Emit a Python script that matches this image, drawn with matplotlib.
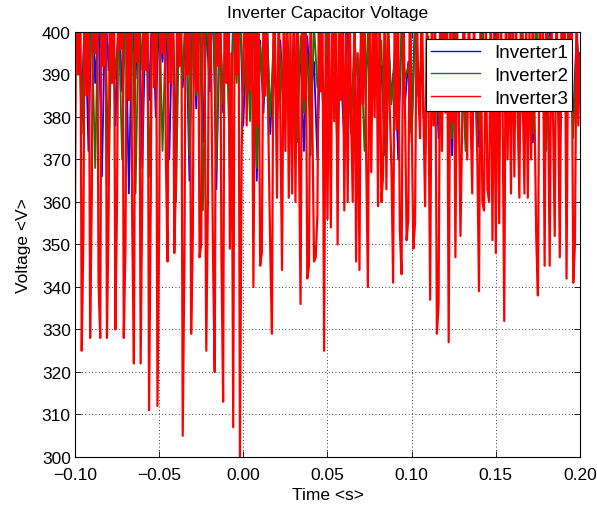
import numpy as np
import matplotlib
matplotlib.use("Agg")
import matplotlib.pyplot as plt

plt.rcParams['font.family'] = ['Liberation Sans', 'DejaVu Sans']

# Sample grids (s)
t_fine = np.round(np.arange(-0.100, 0.2005, 0.001), 4)   # Inverter3 samples
t_coarse = np.round(np.arange(-0.100, 0.2005, 0.002), 4)  # Inverter1/2 samples

# Inverter capacitor voltages (V)
inverter1 = [
    392, 410, 383, 406, 372, 409, 388, 404, 366, 407,
    391, 410, 378, 405, 386, 408, 362, 403, 389, 410,
    368, 406, 384, 409, 380, 404, 393, 408, 370, 405,
    375, 410, 387, 404, 365, 408, 382, 407, 374, 403,
    386, 409, 363, 405, 381, 408, 372, 404, 390, 406,
    378, 402, 384, 408, 365, 398, 381, 404, 376, 395,
    379, 398, 383, 392, 375, 401, 380, 396, 372, 399,
    385, 393, 370, 402, 381, 395, 377, 400, 386, 391,
    374, 403, 382, 394, 369, 400, 387, 396, 378, 402,
    381, 392, 373, 399, 384, 395, 370, 401, 383, 393,
    376, 404, 385, 390, 372, 398, 381, 396, 375, 400,
    388, 392, 371, 403, 380, 394, 377, 399, 384, 391,
    373, 402, 386, 395, 370, 400, 382, 393, 378, 404,
    385, 391, 372, 398, 381, 396, 374, 401, 387, 392,
    376, 403, 383, 394, 371, 399, 386, 395, 379, 400, 388,
]

inverter2 = [
    398, 405, 376, 409, 386, 402, 368, 410, 392, 404,
    364, 408, 389, 403, 370, 409, 384, 405, 362, 407,
    391, 410, 366, 404, 387, 408, 372, 402, 394, 409,
    360, 406, 389, 410, 371, 403, 385, 408, 358, 405,
    392, 409, 368, 404, 383, 407, 365, 402, 388, 404,
    385, 400, 379, 406, 368, 397, 384, 402, 380, 398,
    383, 396, 377, 401, 386, 393, 374, 399, 381, 395,
    371, 402, 387, 392, 378, 400, 383, 394, 370, 403,
    384, 391, 376, 399, 388, 395, 372, 401, 380, 393,
    386, 398, 371, 402, 383, 394, 377, 400, 389, 392,
    374, 401, 385, 396, 370, 399, 382, 393, 379, 403,
    383, 395, 375, 400, 387, 392, 372, 398, 381, 396,
    377, 402, 388, 393, 371, 399, 384, 395, 379, 401,
    386, 392, 373, 400, 382, 397, 376, 403, 385, 394,
    372, 399, 387, 396, 378, 402, 383, 393, 375, 398, 390,
]

inverter3 = [
    358, 428, 390, 435, 325, 352, 432, 385, 438, 328,
    362, 434, 395, 429, 341, 328, 433, 392, 427, 328,
    358, 436, 388, 430, 330, 361, 431, 396, 437, 328,
    350, 429, 384, 438, 355, 322, 427, 393, 433, 322,
    364, 435, 391, 430, 311, 360, 432, 387, 436, 312,
    354, 433, 395, 428, 370, 346, 435, 388, 430, 348,
    366, 437, 392, 431, 305, 346, 429, 390, 434, 329,
    352, 436, 386, 428, 347, 350, 432, 395, 325, 362,
    435, 389, 347, 320, 430, 392, 434, 347, 313, 431,
    388, 436, 349, 395, 307, 428, 390, 433, 300, 372,
    395, 412, 378, 410, 386, 414, 340, 408, 378, 413,
    345, 348, 411, 385, 403, 374, 349, 329, 412, 395,
    361, 410, 380, 344, 406, 372, 413, 361, 401, 362,
    409, 360, 414, 376, 336, 411, 384, 409, 342, 345,
    412, 380, 346, 347, 357, 414, 386, 406, 325, 408,
    356, 401, 354, 413, 379, 410, 350, 405, 384, 412,
    358, 403, 360, 411, 381, 360, 408, 346, 395, 344,
    413, 383, 406, 370, 340, 412, 367, 404, 380, 414,
    359, 408, 360, 366, 411, 363, 403, 382, 368, 341,
    413, 377, 406, 353, 343, 410, 384, 351, 356, 414,
    380, 349, 355, 408, 386, 375, 412, 381, 359, 404,
    385, 337, 410, 378, 403, 329, 336, 411, 372, 408,
    381, 413, 327, 405, 379, 410, 347, 401, 383, 352,
    378, 412, 384, 370, 409, 381, 362, 406, 386, 371,
    339, 408, 360, 358, 404, 363, 360, 411, 351, 402,
    348, 409, 355, 405, 384, 332, 412, 370, 401, 362,
    409, 366, 404, 380, 361, 411, 384, 362, 406, 361,
    401, 370, 410, 381, 352, 338, 408, 383, 403, 345,
    411, 386, 345, 405, 380, 352, 409, 384, 347, 404,
    382, 410, 342, 402, 385, 408, 341, 350, 406, 378,
    395,
]

series = [
    ("Inverter1", t_coarse, inverter1, (0.0, 0.0, 1.0), 1.3),
    ("Inverter2", t_coarse, inverter2, (0.0, 0.5, 0.0), 1.3),
    ("Inverter3", t_fine, inverter3, (1.0, 0.0, 0.0), 1.6),
]

x_ticks = [-0.10, -0.05, 0.00, 0.05, 0.10, 0.15, 0.20]
y_ticks = list(range(300, 401, 10))

fig = plt.figure(figsize=(5.97, 5.06), dpi=100)
ax = fig.add_axes([0.1256, 0.0949, 0.8459, 0.8399])

for name, t, v, c, lw in series:
    ax.plot(t, v, color=c, linewidth=lw, label=name)

ax.set_xlim(-0.1, 0.2)
ax.set_ylim(300, 400)
ax.set_xticks(x_ticks)
ax.set_xticklabels([f"{x:.2f}".replace("-", "\u2212") for x in x_ticks])
ax.set_yticks(y_ticks)
ax.grid(True, color='black', linestyle=(0, (1, 3)), linewidth=0.6)
ax.tick_params(direction='in', top=True, right=True, labelsize=12.5,
               length=4, width=0.6)
ax.tick_params(axis='x', pad=7)
ax.tick_params(axis='y', pad=3)
for sp in ax.spines.values():
    sp.set_linewidth(0.8)

ax.set_title("Inverter Capacitor Voltage", fontsize=12.5, pad=11)
ax.set_xlabel("Time <s>", fontsize=12.5, labelpad=4)
ax.set_ylabel("Voltage <V>", fontsize=12.5, labelpad=8)

leg = ax.legend(loc='upper right', fontsize=13.5, frameon=True, fancybox=False,
                borderaxespad=0.4, handlelength=2.6, borderpad=0.25,
                labelspacing=0.3, handletextpad=0.75)
for h in leg.get_lines():
    h.set_linewidth(1.0)
leg.get_frame().set_edgecolor('black')
leg.get_frame().set_linewidth(0.8)
leg.get_frame().set_alpha(1.0)

fig.savefig("out.png", dpi=100)
